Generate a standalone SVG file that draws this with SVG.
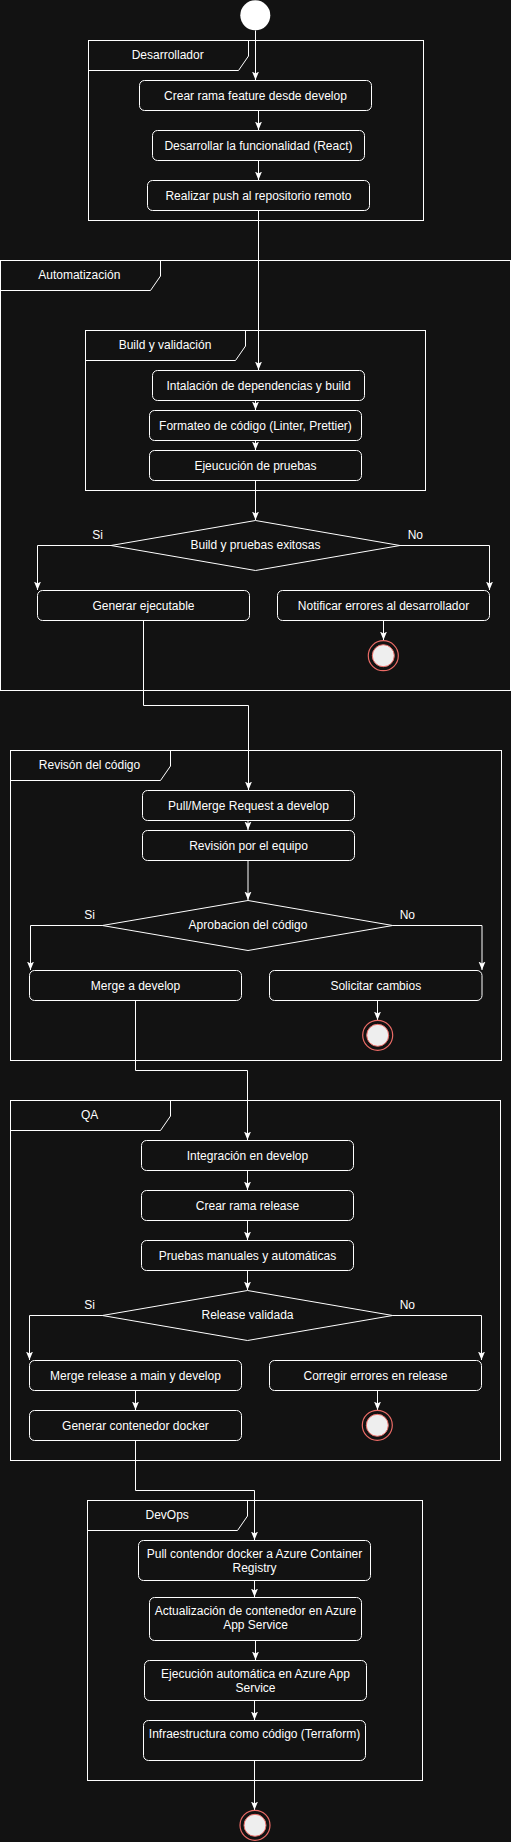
<svg xmlns="http://www.w3.org/2000/svg" width="511" height="1842" viewBox="0 0 511 1842">
<style>
.bg{fill:#121212}
.node{fill:#121212;stroke:#ffffff;stroke-width:1}
.frame{fill:none;stroke:#ffffff;stroke-width:1}
.t{font-family:"Liberation Sans",Arial,sans-serif;font-size:12px;fill:#ffffff;text-anchor:middle}
.c{fill:none;stroke:#ffffff;stroke-width:1}
.endo{fill:#121212;stroke:#ea6b66;stroke-width:1.2}
.endi{fill:#eeeeee;stroke:#ea6b66;stroke-width:1}
</style>
<defs>
<marker id="arr" markerUnits="userSpaceOnUse" markerWidth="9" markerHeight="8" viewBox="0 0 9 8" refX="8.5" refY="4" orient="auto">
<path d="M0,0.5 L8.5,4 L0,7.5 L2,4 Z" fill="#ffffff"/>
</marker>
</defs>
<rect class="bg" x="0" y="0" width="511" height="1842"/>

<g id="frames">
<g id="frame-desarrollador">
<rect class="frame" x="88.5" y="40.5" width="335" height="180"/>
<path class="frame" d="M88.5,70.5 H238.5 L248.5,56 V40.5"/>
<text class="t" x="167.7" y="58.5">Desarrollador</text>
</g>
<g id="frame-automatizacion">
<rect class="frame" x="0.5" y="260.5" width="510" height="430"/>
<path class="frame" d="M0.5,290.5 H150.5 L160.5,276 V260.5"/>
<text class="t" x="79.3" y="278.5">Automatización</text>
</g>
<g id="frame-build">
<rect class="frame" x="85.5" y="330.5" width="340" height="160"/>
<path class="frame" d="M85.5,360.5 H235.5 L245.5,346 V330.5"/>
<text class="t" x="165" y="349">Build y validación</text>
</g>
<g id="frame-revision">
<rect class="frame" x="10.5" y="750.5" width="491" height="310"/>
<path class="frame" d="M10.5,780.5 H160.5 L170.5,766 V750.5"/>
<text class="t" x="89.5" y="768.5">Revisón del código</text>
</g>
<g id="frame-qa">
<rect class="frame" x="10.5" y="1100.5" width="490" height="360"/>
<path class="frame" d="M10.5,1130.5 H160.5 L170.5,1116 V1100.5"/>
<text class="t" x="89.7" y="1118.5">QA</text>
</g>
<g id="frame-devops">
<rect class="frame" x="87.5" y="1500.5" width="335" height="280"/>
<path class="frame" d="M87.5,1530.5 H237.5 L247.5,1516 V1500.5"/>
<text class="t" x="167.2" y="1518.5">DevOps</text>
</g>
</g>

<g id="connectors">
<path class="c" marker-end="url(#arr)" d="M255.5,30.5 V80"/>
<path class="c" marker-end="url(#arr)" d="M258.5,110.5 V130"/>
<path class="c" marker-end="url(#arr)" d="M258.5,160.5 V180"/>
<path class="c" marker-end="url(#arr)" d="M258.5,210.5 V370"/>
<path class="c" marker-end="url(#arr)" d="M255.5,400.5 V410"/>
<path class="c" marker-end="url(#arr)" d="M255.5,440.5 V450"/>
<path class="c" marker-end="url(#arr)" d="M255.5,480.5 V520"/>
<path class="c" marker-end="url(#arr)" d="M111,545.5 H37.5 V590"/>
<path class="c" marker-end="url(#arr)" d="M400,545.5 H489.5 V590"/>
<path class="c" marker-end="url(#arr)" d="M383.5,620.5 V640"/>
<path class="c" marker-end="url(#arr)" d="M143.5,620.5 V705.5 H248.5 V790"/>
<path class="c" marker-end="url(#arr)" d="M248,820.5 V830"/>
<path class="c" marker-end="url(#arr)" d="M248,860.5 V900"/>
<path class="c" marker-end="url(#arr)" d="M102.3,925.5 H30.5 V970"/>
<path class="c" marker-end="url(#arr)" d="M392.7,925.5 H482 V970"/>
<path class="c" marker-end="url(#arr)" d="M377.5,1000.5 V1020"/>
<path class="c" marker-end="url(#arr)" d="M135.5,1000.5 V1070.5 H247.5 V1140"/>
<path class="c" marker-end="url(#arr)" d="M247.5,1170.5 V1190"/>
<path class="c" marker-end="url(#arr)" d="M247.5,1220.5 V1240"/>
<path class="c" marker-end="url(#arr)" d="M247.5,1270.5 V1290"/>
<path class="c" marker-end="url(#arr)" d="M102.3,1315.5 H29.5 V1360"/>
<path class="c" marker-end="url(#arr)" d="M392.7,1315.5 H481.5 V1360"/>
<path class="c" marker-end="url(#arr)" d="M377.5,1390.5 V1410"/>
<path class="c" marker-end="url(#arr)" d="M135.5,1390.5 V1410"/>
<path class="c" marker-end="url(#arr)" d="M135.5,1440.5 V1490.5 H254.5 V1540"/>
<path class="c" marker-end="url(#arr)" d="M254.5,1580.5 V1597"/>
<path class="c" marker-end="url(#arr)" d="M255.5,1640.5 V1660"/>
<path class="c" marker-end="url(#arr)" d="M254.5,1700.5 V1720"/>
<path class="c" marker-end="url(#arr)" d="M254.5,1760.5 V1810"/>
</g>

<g id="start"><circle cx="255.3" cy="15.3" r="15" fill="#ffffff"/></g>

<g id="n-crear-rama"><rect class="node" x="139.5" y="80.5" width="232" height="30" rx="5"/><text class="t" x="255.5" y="99.5">Crear rama feature desde develop</text></g>
<g id="n-desarrollar"><rect class="node" x="152.5" y="130.5" width="212" height="30" rx="5"/><text class="t" x="258.5" y="149.5">Desarrollar la funcionalidad (React)</text></g>
<g id="n-push"><rect class="node" x="147.5" y="180.5" width="222" height="30" rx="5"/><text class="t" x="258.5" y="199.5">Realizar push al repositorio remoto</text></g>

<g id="n-instalacion"><rect class="node" x="152.5" y="370.5" width="212" height="30" rx="5"/><text class="t" x="258.5" y="389.5">Intalación de dependencias y build</text></g>
<g id="n-formateo"><rect class="node" x="149.5" y="410.5" width="212" height="30" rx="5"/><text class="t" x="255.5" y="429.5">Formateo de código (Linter, Prettier)</text></g>
<g id="n-ejecucion-pruebas"><rect class="node" x="149.5" y="450.5" width="212" height="30" rx="5"/><text class="t" x="255.5" y="469.5">Ejeucución de pruebas</text></g>

<g id="d-build"><path class="node" d="M255.5,520.5 L400,545.5 L255.5,570.5 L111,545.5 Z"/><text class="t" x="255.5" y="549">Build y pruebas exitosas</text>
<text class="t" x="97.7" y="538.5">Si</text><text class="t" x="415.3" y="538.5">No</text></g>

<g id="n-generar-ejecutable"><rect class="node" x="37.5" y="590.5" width="212" height="30" rx="5"/><text class="t" x="143.5" y="609.5">Generar ejecutable</text></g>
<g id="n-notificar"><rect class="node" x="277.5" y="590.5" width="212" height="30" rx="5"/><text class="t" x="383.5" y="609.5">Notificar errores al desarrollador</text></g>
<g id="end-1"><circle class="endo" cx="383.3" cy="655.7" r="15"/><circle class="endi" cx="383.3" cy="655.7" r="11"/></g>

<g id="n-pull-request"><rect class="node" x="142.5" y="790.5" width="212" height="30" rx="5"/><text class="t" x="248.5" y="809.5">Pull/Merge Request a develop</text></g>
<g id="n-revision-equipo"><rect class="node" x="142.5" y="830.5" width="212" height="30" rx="5"/><text class="t" x="248.5" y="849.5">Revisión por el equipo</text></g>
<g id="d-aprobacion"><path class="node" d="M248,900.5 L392.7,925.5 L248,950.5 L102.3,925.5 Z"/><text class="t" x="248" y="929">Aprobacion del código</text>
<text class="t" x="89.7" y="918.5">Si</text><text class="t" x="407.3" y="918.5">No</text></g>
<g id="n-merge-develop"><rect class="node" x="29.5" y="970.5" width="212" height="30" rx="5"/><text class="t" x="135.5" y="989.5">Merge a develop</text></g>
<g id="n-solicitar"><rect class="node" x="269.5" y="970.5" width="212.5" height="30" rx="5"/><text class="t" x="375.8" y="989.5">Solicitar cambios</text></g>
<g id="end-2"><circle class="endo" cx="377.7" cy="1035.3" r="15"/><circle class="endi" cx="377.7" cy="1035.3" r="11"/></g>

<g id="n-integracion"><rect class="node" x="141.5" y="1140.5" width="212" height="30" rx="5"/><text class="t" x="247.5" y="1159.5">Integración en develop</text></g>
<g id="n-crear-release"><rect class="node" x="141.5" y="1190.5" width="212" height="30" rx="5"/><text class="t" x="247.5" y="1209.5">Crear rama release</text></g>
<g id="n-pruebas-manuales"><rect class="node" x="141.5" y="1240.5" width="212" height="30" rx="5"/><text class="t" x="247.5" y="1259.5">Pruebas manuales y automáticas</text></g>
<g id="d-release"><path class="node" d="M247.5,1290.5 L392.7,1315.5 L247.5,1340.5 L102.3,1315.5 Z"/><text class="t" x="247.5" y="1319">Release validada</text>
<text class="t" x="89.7" y="1308.5">Si</text><text class="t" x="407.3" y="1308.5">No</text></g>
<g id="n-merge-release"><rect class="node" x="29.5" y="1360.5" width="212" height="30" rx="5"/><text class="t" x="135.5" y="1379.5">Merge release a main y develop</text></g>
<g id="n-corregir"><rect class="node" x="269.5" y="1360.5" width="212" height="30" rx="5"/><text class="t" x="375.5" y="1379.5">Corregir errores en release</text></g>
<g id="n-generar-docker"><rect class="node" x="29.5" y="1410.5" width="212" height="30" rx="5"/><text class="t" x="135.5" y="1429.5">Generar contenedor docker</text></g>
<g id="end-3"><circle class="endo" cx="377.3" cy="1425.3" r="15"/><circle class="endi" cx="377.3" cy="1425.3" r="11"/></g>

<g id="n-pull-acr"><rect class="node" x="138.5" y="1540.5" width="232" height="40" rx="5"/><text class="t" x="254.5" y="1557.5">Pull contendor docker a Azure Container</text><text class="t" x="254.5" y="1571.8">Registry</text></g>
<g id="n-actualizacion"><rect class="node" x="149.5" y="1597.5" width="212" height="43" rx="5"/><text class="t" x="255.5" y="1615">Actualización de contenedor en Azure</text><text class="t" x="255.5" y="1629">App Service</text></g>
<g id="n-ejecucion-azure"><rect class="node" x="144.5" y="1660.5" width="222" height="40" rx="5"/><text class="t" x="255.5" y="1678">Ejecución automática en Azure App</text><text class="t" x="255.5" y="1692">Service</text></g>
<g id="n-terraform"><rect class="node" x="143.5" y="1720.5" width="222" height="40" rx="5"/><text class="t" x="254.5" y="1738">Infraestructura como código (Terraform)</text></g>
<g id="end-4"><circle class="endo" cx="255" cy="1825.3" r="15"/><circle class="endi" cx="255" cy="1825.3" r="11"/></g>
</svg>
